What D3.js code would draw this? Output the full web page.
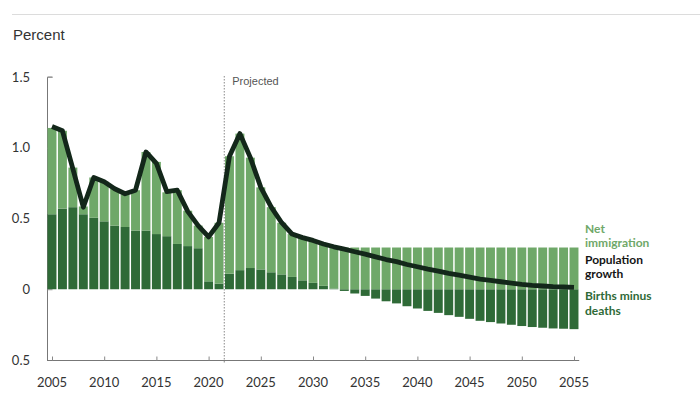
<!DOCTYPE html>
<html>
<head>
<meta charset="utf-8">
<script src="https://cdn.jsdelivr.net/npm/d3@7"></script>
<style>
  html, body { margin: 0; padding: 0; background: #fff; }
  svg { display: block; }
</style>
</head>
<body>
<div id="chart"></div>
<script>
// ----- data -----
const years = d3.range(2005, 2056);

// births minus deaths (percent)
const birthsMinusDeaths = [
  0.53, 0.57, 0.58, 0.53, 0.505, 0.48, 0.45, 0.44, 0.415, 0.415,
  0.39, 0.375, 0.32, 0.305, 0.29, 0.056, 0.04, 0.11, 0.135, 0.15,
  0.14, 0.12, 0.105, 0.087, 0.063, 0.045, 0.024, 0.005, -0.012, -0.03,
  -0.047, -0.066, -0.085, -0.10, -0.12, -0.136, -0.153, -0.167, -0.183, -0.195,
  -0.209, -0.223, -0.232, -0.242, -0.251, -0.26, -0.267, -0.272, -0.277, -0.279,
  -0.282
];

// net immigration (percent)
const netImmigration = [
  0.61, 0.55, 0.28, 0.055, 0.285, 0.28, 0.26, 0.23, 0.285, 0.555,
  0.51, 0.31, 0.38, 0.25, 0.16, 0.314, 0.43, 0.83, 0.965, 0.78,
  0.58, 0.46, 0.365, 0.303, 0.305, 0.30, 0.296, 0.295, 0.295, 0.295,
  0.295, 0.295, 0.295, 0.295, 0.295, 0.295, 0.295, 0.295, 0.295, 0.295,
  0.295, 0.295, 0.295, 0.295, 0.295, 0.295, 0.295, 0.295, 0.295, 0.295,
  0.295
];

// population growth (percent)
const populationGrowth = [
  1.15, 1.12, 0.85, 0.58, 0.79, 0.76, 0.71, 0.675, 0.70, 0.97,
  0.89, 0.69, 0.70, 0.55, 0.45, 0.37, 0.47, 0.94, 1.10, 0.93,
  0.72, 0.58, 0.47, 0.39, 0.365, 0.345, 0.32, 0.30, 0.283, 0.265,
  0.248, 0.229, 0.21, 0.195, 0.175, 0.159, 0.142, 0.128, 0.112, 0.10,
  0.086, 0.072, 0.063, 0.053, 0.044, 0.035, 0.028, 0.023, 0.018, 0.016,
  0.013
];

const yTicks = [1.5, 1.0, 0.5, 0, -0.5];
const yTickLabels = ["1.5", "1.0", "0.5", "0", "0.5"];
const xTicks = d3.range(2005, 2056, 5);
const projectedFrom = 2021.5;

const legendItems = [
  { lines: ["Net", "immigration"], color: "#6fa869" },
  { lines: ["Population", "growth"], color: "#151515" },
  { lines: ["Births minus", "deaths"], color: "#2f6a37" }
];

// ----- layout -----
const w = 700;
const h = 394;

const colLight = "#6fa869";
const colDark = "#2f6a37";
const colLine = "#13271a";

const svg = d3.select("#chart").append("svg")
  .attr("width", w)
  .attr("height", h);

const x = d3.scaleLinear().domain([2005, 2055]).range([52, 574]);
const y = d3.scaleLinear().domain([-0.5, 1.5]).range([360, 77]);
const step = x(2006) - x(2005);
const barW = step - 1.5;

// top rule
svg.append("line")
  .attr("x1", 12).attr("x2", w)
  .attr("y1", 14.5).attr("y2", 14.5)
  .attr("stroke", "#dcdcdc");

svg.append("text")
  .attr("x", 13)
  .attr("y", 40)
  .attr("font-family", "Liberation Sans, Arial, sans-serif")
  .attr("font-size", 15)
  .attr("fill", "#333")
  .text("Percent");

// ---------- y axis ----------
const yAxis = svg.append("g")
  .attr("transform", "translate(47.5,0)")
  .call(d3.axisRight(y).tickValues(yTicks).tickSize(5).tickFormat(""));
yAxis.select(".domain").attr("stroke", "#777").attr("d", `M5,${y(1.5)}H0V${y(-0.5)}`);
yAxis.selectAll(".tick line").attr("stroke", "#999");

svg.append("g")
  .selectAll("text")
  .data(yTicks)
  .join("text")
  .attr("x", 30)
  .attr("y", d => y(d))
  .attr("dy", "0.35em")
  .attr("text-anchor", "end")
  .attr("font-family", "Lato, sans-serif")
  .attr("font-size", 13)
  .attr("fill", "#333")
  .text((d, i) => yTickLabels[i]);

// ---------- bars ----------
const rows = years.map((yr, i) => ({
  year: yr,
  births: birthsMinusDeaths[i],
  immigration: netImmigration[i]
}));

const stack = d3.stack()
  .keys(["births", "immigration"])
  .offset(d3.stackOffsetDiverging);

const series = stack(rows);
const colors = { births: colDark, immigration: colLight };

svg.append("g")
  .selectAll("g")
  .data(series)
  .join("g")
  .attr("fill", s => colors[s.key])
  .selectAll("rect")
  .data(s => s)
  .join("rect")
  .attr("x", d => x(d.data.year) - barW / 2)
  .attr("width", barW)
  .attr("y", d => y(Math.max(d[0], d[1])))
  .attr("height", d => Math.abs(y(d[0]) - y(d[1])));

// ---------- x axis ----------
const xAxis = svg.append("g")
  .attr("transform", "translate(0,360.5)")
  .call(d3.axisTop(x).tickValues(xTicks).tickSize(4).tickFormat(""));
xAxis.select(".domain").attr("stroke", "#777").attr("d", `M47,0H${x(2055) + step / 2}`);
xAxis.selectAll(".tick line").attr("stroke", "#888");

svg.append("g")
  .selectAll("text")
  .data(xTicks)
  .join("text")
  .attr("x", d => x(d))
  .attr("y", 387)
  .attr("text-anchor", "middle")
  .attr("font-family", "Lato, sans-serif")
  .attr("font-size", 13)
  .attr("fill", "#333")
  .text(d => d);

// ---------- projected marker ----------
svg.append("line")
  .attr("x1", x(projectedFrom)).attr("x2", x(projectedFrom))
  .attr("y1", 76).attr("y2", 364)
  .attr("stroke", "#888")
  .attr("stroke-width", 1)
  .attr("stroke-dasharray", "1.5 1.5");

svg.append("text")
  .attr("x", x(projectedFrom) + 8)
  .attr("y", 85)
  .attr("font-family", "Liberation Sans, Arial, sans-serif")
  .attr("font-size", 11)
  .attr("fill", "#555")
  .text("Projected");

// ---------- growth line ----------
const line = d3.line()
  .x((d, i) => x(years[i]))
  .y(d => y(d));

svg.append("path")
  .datum(populationGrowth)
  .attr("fill", "none")
  .attr("stroke", colLine)
  .attr("stroke-width", 4.8)
  .attr("stroke-linejoin", "round")
  .attr("d", line);

// ---------- legend ----------
const legendY = [232.5, 263.5, 300];
legendItems.forEach((item, i) => {
  item.lines.forEach((l, j) => {
    svg.append("text")
      .attr("x", 585)
      .attr("y", legendY[i] + j * 14.5)
      .attr("font-family", "Lato, sans-serif")
      .attr("font-weight", 700)
      .attr("font-size", 12)
      .attr("fill", item.color)
      .text(l);
  });
});
</script>
</body>
</html>
